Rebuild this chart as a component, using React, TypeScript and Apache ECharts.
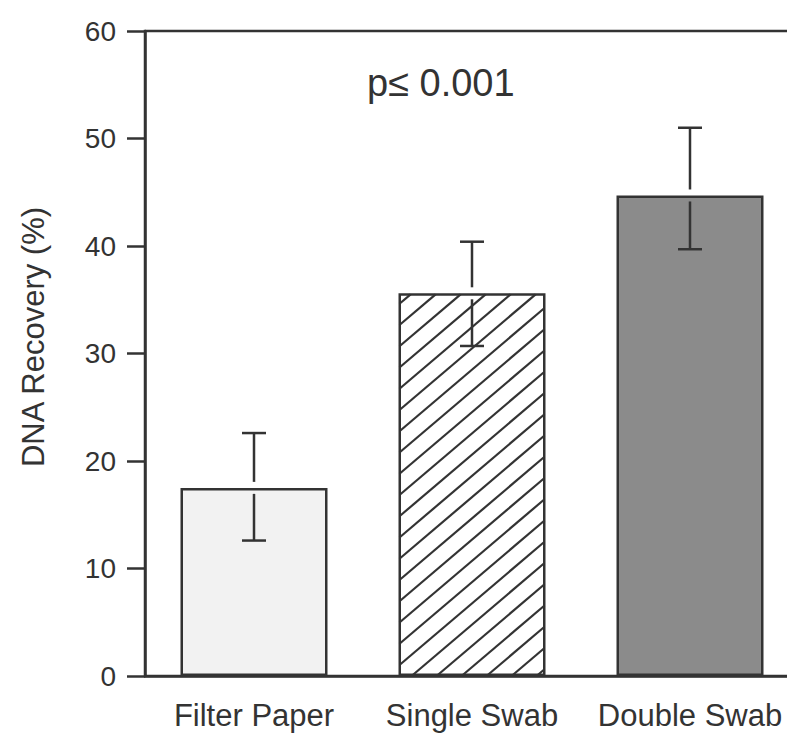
import React, { useEffect, useRef } from "react";
import * as echarts from "echarts";

const categories = ["Filter Paper", "Single Swab", "Double Swab"];
const meanValues = [17.5, 35.6, 44.7];
const errorHigh = [22.6, 40.4, 51.0];
const errorLow = [12.6, 30.7, 39.7];
const yTicks = [0, 10, 20, 30, 40, 50, 60];
const hatchedIndex = [1];
const annotation = "p\u2264 0.001";
const yAxisTitle = "DNA Recovery (%)";

const INK = "#333333";
const FONT = "'Liberation Sans', Arial, Helvetica, sans-serif";
const BAR_W = 147;

export default function App() {
  const ref = useRef<HTMLDivElement>(null);
  useEffect(() => {
    if (!ref.current) return;
    const chart = echarts.init(ref.current, undefined, { renderer: "svg" });
    const barStyles = [
      { color: "#f2f2f2", borderColor: INK, borderWidth: 2.5 },
      { color: "#ffffff", borderColor: INK, borderWidth: 2.5 },
      { color: "#8b8b8b", borderColor: INK, borderWidth: 2.5 },
    ];
    const errData = categories.map((c, i) => [i, errorHigh[i], errorLow[i], meanValues[i]]);
    const hatchData = hatchedIndex.map((i) => [i, meanValues[i]]);
    chart.setOption({
      animation: false,
      backgroundColor: "#ffffff",
      grid: {
        left: 145,
        top: 31,
        width: 654,
        height: 645,
        show: true,
        borderColor: INK,
        borderWidth: 2.5,
        backgroundColor: "transparent",
      },
      graphic: [
        {
          type: "text",
          left: 367,
          top: 64,
          style: { text: annotation, font: `38px ${FONT}`, fill: INK },
        },
        {
          type: "text",
          x: 33,
          y: 337,
          rotation: Math.PI / 2,
          style: {
            text: yAxisTitle,
            font: `31px ${FONT}`,
            fill: INK,
            align: "center",
            verticalAlign: "middle",
          },
        },
      ],
      xAxis: {
        type: "category",
        data: categories,
        axisLine: { lineStyle: { color: INK, width: 2.5 } },
        axisTick: { alignWithLabel: true, length: 17, lineStyle: { color: INK, width: 2.5 } },
        axisLabel: { fontSize: 31, color: INK, fontFamily: FONT, margin: 24, interval: 0 },
        splitLine: { show: false },
      },
      yAxis: {
        type: "value",
        min: yTicks[0],
        max: yTicks[yTicks.length - 1],
        interval: 10,
        axisLine: { show: true, lineStyle: { color: INK, width: 2.5 } },
        axisTick: { show: true, length: 18, lineStyle: { color: INK, width: 2.5 } },
        axisLabel: { fontSize: 28, color: INK, fontFamily: FONT, margin: 29 },
        splitLine: { show: false },
      },
      series: [
        {
          type: "bar",
          barWidth: BAR_W,
          data: meanValues.map((v, i) => ({ value: v, itemStyle: barStyles[i] })),
          z: 2,
        },
        {
          type: "custom",
          data: hatchData,
          z: 3,
          renderItem: (params: any, api: any) => {
            const idx = api.value(0);
            const top = api.coord([idx, api.value(1)]);
            const bot = api.coord([idx, 0]);
            const x0 = top[0] - BAR_W / 2 + 1;
            const x1 = top[0] + BAR_W / 2 - 1;
            const y0 = top[1] + 1;
            const y1 = bot[1] - 1;
            const tan = 0.85;
            const step = 25;
            const children: any[] = [];
            const cMin = x0 * tan + y0;
            const cMax = x1 * tan + y1;
            const start = x0 * tan + y1 - 10 - Math.floor((x0 * tan + y1 - 10 - cMin) / (step * tan)) * step * tan;
            for (let c = start; c <= cMax; c += step * tan) {
              const xa = Math.max(x0, (c - y1) / tan);
              const xb = Math.min(x1, (c - y0) / tan);
              if (xb <= xa) continue;
              children.push({
                type: "line",
                shape: { x1: xa, y1: c - xa * tan, x2: xb, y2: c - xb * tan },
                style: { stroke: INK, lineWidth: 2.2 },
              });
            }
            return { type: "group", children };
          },
        },
        {
          type: "custom",
          data: errData,
          z: 10,
          renderItem: (params: any, api: any) => {
            const x = api.value(0);
            const hi = api.coord([x, api.value(1)]);
            const lo = api.coord([x, api.value(2)]);
            const mid = api.coord([x, api.value(3)]);
            const cx = hi[0];
            const cap = 12;
            const gap = 6;
            const style = { stroke: INK, lineWidth: 2.5 };
            return {
              type: "group",
              children: [
                { type: "line", shape: { x1: cx, y1: hi[1], x2: cx, y2: mid[1] - gap }, style },
                { type: "line", shape: { x1: cx - cap, y1: hi[1], x2: cx + cap, y2: hi[1] }, style },
                { type: "line", shape: { x1: cx, y1: mid[1] + gap, x2: cx, y2: lo[1] }, style },
                { type: "line", shape: { x1: cx - cap, y1: lo[1], x2: cx + cap, y2: lo[1] }, style },
              ],
            };
          },
        },
      ],
    });
    return () => chart.dispose();
  }, []);
  return (
    <div style={{ width: 787, height: 742, position: "absolute", left: 0, top: 0, overflow: "hidden" }}>
      <div ref={ref} style={{ width: 802, height: 742 }} />
    </div>
  );
}
